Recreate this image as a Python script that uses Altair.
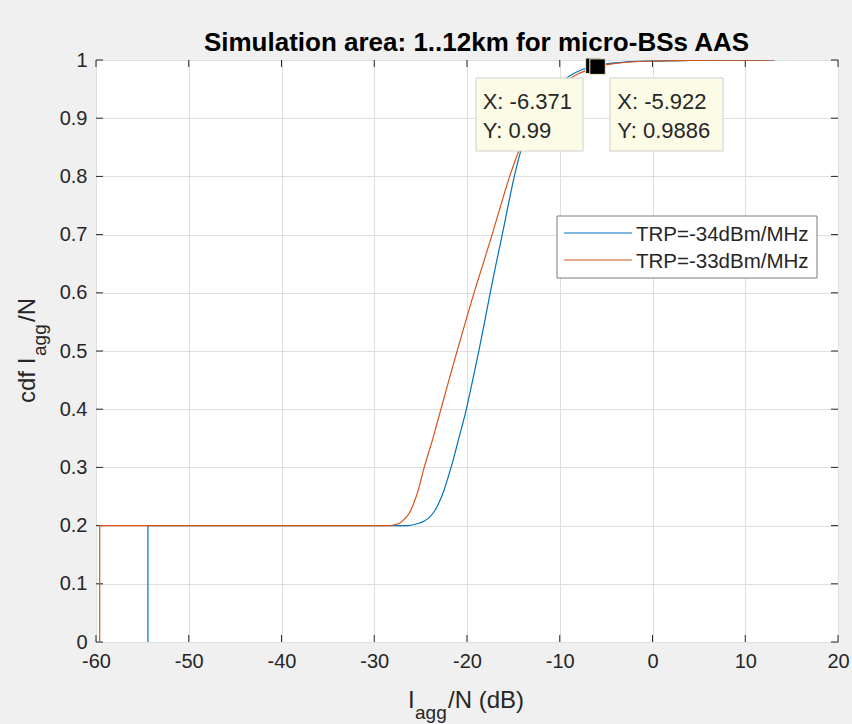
import altair as alt
import pandas as pd

# ---------------- data ----------------
series_names = ["TRP=-34dBm/MHz", "TRP=-33dBm/MHz"]
series_colors = ["#0072BD", "#D95319"]

blue_x = [-54.4, -54.4, -26.5, -25.8, -25.2, -24.6, -24.0, -23.5, -23.0, -22.5, -22.0,
          -21.5, -21.0, -20.1, -19.4, -18.7, -18.1, -17.5, -16.85, -16.2, -15.55, -14.9,
          -14.1, -13.3, -12.5, -11.5, -10.5, -9.6, -8.9, -7.5, -6.371, -5.0, -3.0, 0.0,
          4.0, 8.0, 13.2]
blue_y = [0.0, 0.2, 0.2, 0.2015, 0.204, 0.208, 0.215, 0.225, 0.24, 0.26, 0.285,
          0.312, 0.343, 0.398, 0.449, 0.502, 0.55, 0.6, 0.651, 0.70, 0.751, 0.80,
          0.849, 0.882, 0.907, 0.932, 0.952, 0.965, 0.973, 0.984, 0.99, 0.9935, 0.9965, 0.9982,
          0.9992, 0.9997, 1.0]

orange_x = [-59.6, -59.6, -28.5, -27.8, -27.2, -26.7, -26.2, -25.7, -25.2, -24.75, -24.3,
            -23.8, -22.9, -22.0, -21.1, -20.2, -19.3, -18.3, -17.35, -16.4, -15.4, -14.3,
            -13.3, -12.3, -11.2, -10.0, -8.4, -7.0, -5.922, -4.0, -2.0, 1.0, 5.0, 9.0, 13.0]
orange_y = [0.0, 0.2, 0.2, 0.2015, 0.205, 0.212, 0.222, 0.24, 0.264, 0.292, 0.317,
            0.343, 0.395, 0.447, 0.498, 0.548, 0.597, 0.648, 0.697, 0.748, 0.80, 0.848,
            0.881, 0.91, 0.935, 0.955, 0.973, 0.983, 0.9886, 0.994, 0.997, 0.9985, 0.9993,
            0.9997, 1.0]

x_ticks = [-60, -50, -40, -30, -20, -10, 0, 10, 20]
y_ticks = [0, 0.1, 0.2, 0.3, 0.4, 0.5, 0.6, 0.7, 0.8, 0.9, 1]

tip_x = [-6.371, -5.922]
tip_y = [0.99, 0.9886]
tip_x_text = ["X: -6.371", "X: -5.922"]
tip_y_text = ["Y: 0.99", "Y: 0.9886"]

title_text = "Simulation area: 1..12km for micro-BSs AAS"

# ---------------- layout ----------------
W, H = 742, 582
FONT = "Liberation Sans"
TXT = "#262626"

xscale = alt.Scale(domain=[-60, 20], nice=False, zero=False)
yscale = alt.Scale(domain=[0, 1], nice=False, zero=False)

common_axis = dict(grid=True, gridColor="#DFDFDF", gridWidth=1, domain=False, ticks=False,
                   labelFont=FONT, labelFontSize=20, labelColor=TXT, labelPadding=9,
                   title=None, labelExpr="'' + datum.value", labelFlush=False,
                   labelOverlap=False)
xaxis = alt.Axis(values=x_ticks, **common_axis)
yaxis = alt.Axis(values=y_ticks, **common_axis)


def X(field):
    return alt.X(field, type="quantitative", scale=xscale, axis=xaxis)


def Y(field):
    return alt.Y(field, type="quantitative", scale=yscale, axis=yaxis)


def PX(field):
    return alt.X(field, type="quantitative", scale=None, axis=None)


def PY(field):
    return alt.Y(field, type="quantitative", scale=None, axis=None)


layers = []

# inward tick marks (MATLAB style)
xt = pd.DataFrame({"v": x_ticks})
yt = pd.DataFrame({"v": y_ticks})
tick_col = "#262626"
layers.append(alt.Chart(xt).mark_rule(color=tick_col, strokeWidth=1).encode(
    x=X("v"), y=alt.value(H), y2=alt.value(H - 7)))
layers.append(alt.Chart(xt).mark_rule(color=tick_col, strokeWidth=1).encode(
    x=X("v"), y=alt.value(0), y2=alt.value(7)))
layers.append(alt.Chart(yt).mark_rule(color=tick_col, strokeWidth=1).encode(
    y=Y("v"), x=alt.value(0), x2=alt.value(7)))
layers.append(alt.Chart(yt).mark_rule(color=tick_col, strokeWidth=1).encode(
    y=Y("v"), x=alt.value(W - 7), x2=alt.value(W)))

# series lines (orange drawn last, on top)
for xs, ys, col in [(blue_x, blue_y, series_colors[0]), (orange_x, orange_y, series_colors[1])]:
    df = pd.DataFrame({"x": xs, "y": ys, "i": list(range(len(xs)))})
    layers.append(alt.Chart(df).mark_line(color=col, strokeWidth=1.2, clip=True,
                                          interpolate="monotone").encode(
        x=X("x"), y=Y("y"), order=alt.Order("i:Q")))

# datatip boxes (pixel layout)
tip_box = pd.DataFrame({
    "x1": [380, 514], "x2": [487, 627], "y1": [18, 18], "y2": [91, 91],
    "tx": [386.7, 521.3], "ty1": [48.5, 49.3], "ty2": [77.5, 78.3],
    "lx": tip_x_text, "ly": tip_y_text,
})
layers.append(alt.Chart(tip_box).mark_rect(fill="#FBFBE6", stroke="#CFCFCF", strokeWidth=1).encode(
    x=PX("x1"), x2="x2", y=PY("y1"), y2="y2"))
layers.append(alt.Chart(tip_box).mark_text(font=FONT, fontSize=22, color=TXT, align="left",
                                            baseline="alphabetic").encode(
    x=PX("tx"), y=PY("ty1"), text="lx:N"))
layers.append(alt.Chart(tip_box).mark_text(font=FONT, fontSize=22, color=TXT, align="left",
                                            baseline="alphabetic").encode(
    x=PX("tx"), y=PY("ty2"), text="ly:N"))

# datatip markers
tips = pd.DataFrame({"x": tip_x, "y": tip_y})
layers.append(alt.Chart(tips).mark_point(shape="square", filled=True, size=240, fill="black",
                                         stroke="#EDEDC8", strokeWidth=1, opacity=1).encode(
    x=X("x"), y=Y("y")))

# legend (drawn manually, MATLAB style)
leg_box = pd.DataFrame({"x1": [461], "x2": [721], "y1": [156], "y2": [218]})
layers.append(alt.Chart(leg_box).mark_rect(fill="white", stroke="#7A7A7A", strokeWidth=1).encode(
    x=PX("x1"), x2="x2", y=PY("y1"), y2="y2"))
leg = pd.DataFrame({"name": series_names, "color": series_colors,
                    "lx1": [468, 468], "lx2": [536, 536], "ly": [173, 200],
                    "tx": [540, 540], "ty": [174.5, 201.5]})
layers.append(alt.Chart(leg).mark_rule(strokeWidth=1.2).encode(
    x=PX("lx1"), x2="lx2", y=PY("ly"),
    color=alt.Color("color:N", scale=None, legend=None)))
layers.append(alt.Chart(leg).mark_text(font=FONT, fontSize=20.5, color=TXT, align="left",
                                       baseline="middle").encode(
    x=PX("tx"), y=PY("ty"), text="name:N"))

# title and axis titles (with subscripts)
def label(text, x, y, size, angle=0):
    return alt.Chart(pd.DataFrame({"t": [text]})).mark_text(
        font=FONT, fontSize=size, color=TXT, align="left",
        baseline="alphabetic", angle=angle).encode(
        x=alt.value(x), y=alt.value(y), text="t:N")


layers.append(alt.Chart(pd.DataFrame({"t": [title_text]})).mark_text(
    font=FONT, fontSize=26, fontWeight="bold", color="black", align="center",
    baseline="alphabetic").encode(x=alt.value(380.5), y=alt.value(-9.3), text="t:N"))

layers.append(label("I", 312, 648.3, 24))
layers.append(label("agg", 319, 659, 19))
layers.append(label("/N (dB)", 352, 648.3, 24))

layers.append(label("cdf I", -61, 343, 24, angle=270))
layers.append(label("agg", -50, 296, 19, angle=270))
layers.append(label("/N", -61, 262, 24, angle=270))

chart = alt.layer(*layers).properties(
    width=W, height=H,
    autosize=alt.AutoSizeParams(type="none"),
    padding={"left": 96, "top": 60, "right": 14, "bottom": 82},
    background="#F0F0F0",
).configure_view(stroke="#595959", strokeWidth=1, fill="white")

chart.save("out.html", embed_options={"renderer": "svg", "actions": False})
